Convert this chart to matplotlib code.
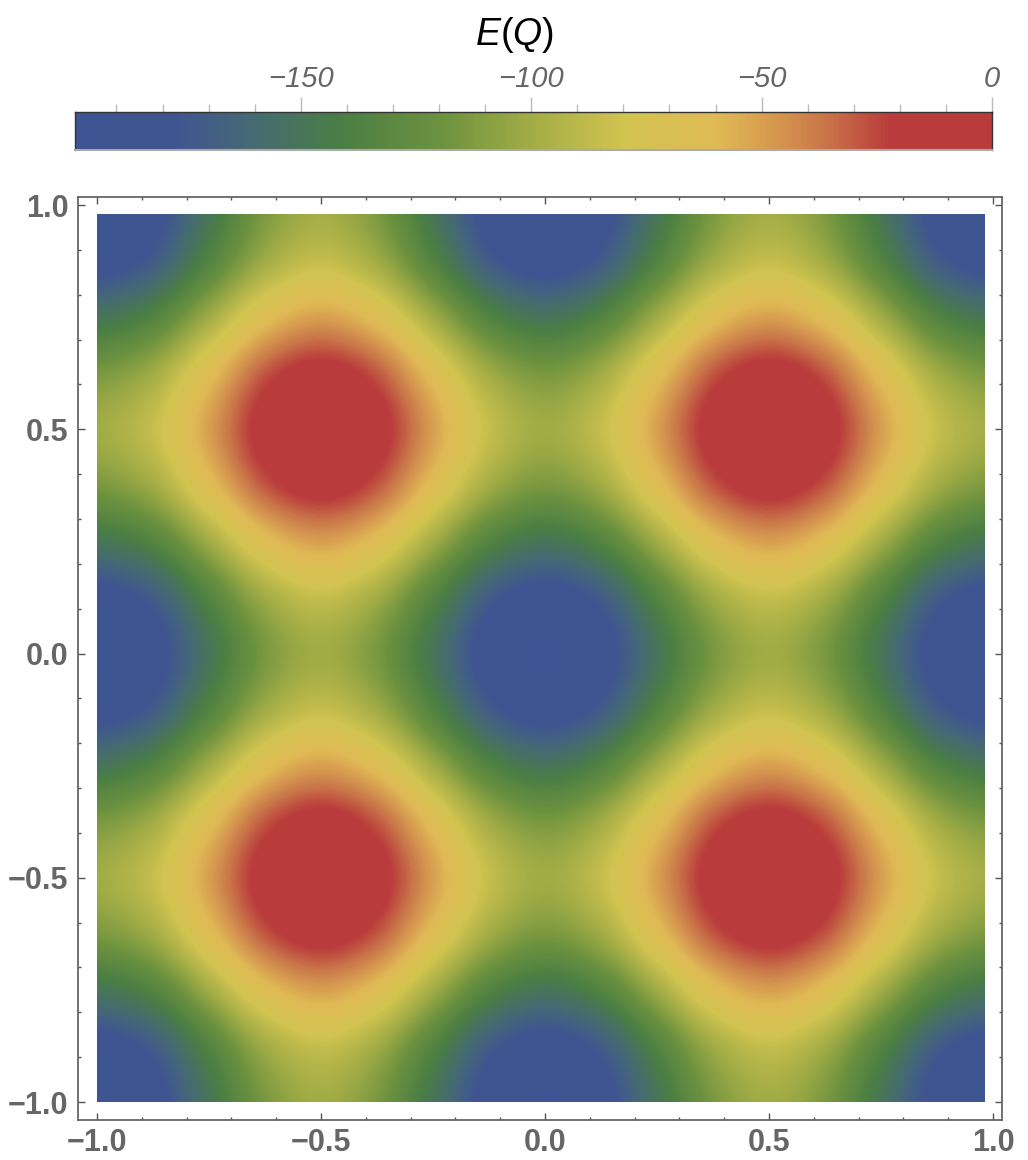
import matplotlib
matplotlib.use("Agg")
import matplotlib.pyplot as plt
import numpy as np
from matplotlib.colors import LinearSegmentedColormap
from matplotlib.patches import Rectangle

# grid of E(Q) values, step 0.125 from -1 to 1
# rows go with y (bottom to top), columns with x (left to right)
grid_x = [-1.0, -0.875, -0.75, -0.625, -0.5, -0.375, -0.25, -0.125, 0.0,
          0.125, 0.25, 0.375, 0.5, 0.625, 0.75, 0.875, 1.0]
grid_y = grid_x
energy = [
    [-200, -185, -150, -115, -100, -115, -150, -185, -200, -185, -150, -115, -100, -115, -150, -185, -200],
    [-185, -171, -135, -100, -85, -100, -135, -171, -185, -171, -135, -100, -85, -100, -135, -171, -185],
    [-150, -135, -100, -65, -50, -65, -100, -135, -150, -135, -100, -65, -50, -65, -100, -135, -150],
    [-115, -100, -65, -29, -15, -29, -65, -100, -115, -100, -65, -29, -15, -29, -65, -100, -115],
    [-100, -85, -50, -15, 0, -15, -50, -85, -100, -85, -50, -15, 0, -15, -50, -85, -100],
    [-115, -100, -65, -29, -15, -29, -65, -100, -115, -100, -65, -29, -15, -29, -65, -100, -115],
    [-150, -135, -100, -65, -50, -65, -100, -135, -150, -135, -100, -65, -50, -65, -100, -135, -150],
    [-185, -171, -135, -100, -85, -100, -135, -171, -185, -171, -135, -100, -85, -100, -135, -171, -185],
    [-200, -185, -150, -115, -100, -115, -150, -185, -200, -185, -150, -115, -100, -115, -150, -185, -200],
    [-185, -171, -135, -100, -85, -100, -135, -171, -185, -171, -135, -100, -85, -100, -135, -171, -185],
    [-150, -135, -100, -65, -50, -65, -100, -135, -150, -135, -100, -65, -50, -65, -100, -135, -150],
    [-115, -100, -65, -29, -15, -29, -65, -100, -115, -100, -65, -29, -15, -29, -65, -100, -115],
    [-100, -85, -50, -15, 0, -15, -50, -85, -100, -85, -50, -15, 0, -15, -50, -85, -100],
    [-115, -100, -65, -29, -15, -29, -65, -100, -115, -100, -65, -29, -15, -29, -65, -100, -115],
    [-150, -135, -100, -65, -50, -65, -100, -135, -150, -135, -100, -65, -50, -65, -100, -135, -150],
    [-185, -171, -135, -100, -85, -100, -135, -171, -185, -171, -135, -100, -85, -100, -135, -171, -185],
    [-200, -185, -150, -115, -100, -115, -150, -185, -200, -185, -150, -115, -100, -115, -150, -185, -200],
]
data_max = 0.98   # sampled data stops just short of 1

axis_ticks = [-1.0, -0.5, 0.0, 0.5, 1.0]
axis_labels = ["\u22121.0", "\u22120.5", "0.0", "0.5", "1.0"]
cbar_ticks = [-150, -100, -50, 0]
cbar_labels = ["\u2212150", "\u2212100", "\u221250", "0"]
e_min, e_max = -199, 0

# DarkRainbow-like colours sampled from the legend
cpos = [0.0, 0.11, 0.19, 0.29, 0.40, 0.50, 0.60, 0.70, 0.77, 0.82, 0.89, 1.0]
ccol = ["#3d5592", "#3f5591", "#456a74", "#4a7e44", "#6d923f", "#a3ad46",
        "#d2c450", "#e0ba55", "#d5944f", "#c97549", "#ba3b3c", "#ba3b3c"]
cmap = LinearSegmentedColormap.from_list("darkrainbow", list(zip(cpos, ccol)))

plt.rcParams['font.family'] = ['Liberation Sans', 'DejaVu Sans']
plt.rcParams['mathtext.fontset'] = 'custom'
plt.rcParams['mathtext.rm'] = 'Liberation Sans'
plt.rcParams['mathtext.it'] = 'Liberation Sans:italic'

W, H = 1028, 1160
fig = plt.figure(figsize=(W / 100, H / 100), dpi=100)
ax = fig.add_axes([78 / W, 40 / H, 924 / W, 923 / H])

h = grid_x[1] - grid_x[0]
im = ax.imshow(np.array(energy), origin='lower', cmap=cmap, vmin=e_min, vmax=e_max,
               extent=(grid_x[0] - h / 2, grid_x[-1] + h / 2, grid_y[0] - h / 2, grid_y[-1] + h / 2),
               interpolation='catrom', interpolation_stage='data', aspect='auto')
clip = Rectangle((grid_x[0], grid_y[0]), data_max - grid_x[0], data_max - grid_y[0],
                 transform=ax.transData)
im.set_clip_path(clip)

ax.set_xlim(-1.0424, 1.0201)
ax.set_ylim(-1.0401, 1.018)
ax.set_xticks(axis_ticks, axis_labels, fontweight='bold')
ax.set_yticks(axis_ticks, axis_labels, fontweight='bold')
ax.set_xticks(np.arange(-1.0, 1.01, 0.1), minor=True)
ax.set_yticks(np.arange(-1.0, 1.01, 0.1), minor=True)
ax.tick_params(which='both', direction='in', top=True, right=True, color='#555555',
               width=1.0, labelsize=22, labelcolor='#666666')
ax.tick_params(which='major', length=5)
ax.tick_params(which='minor', length=2.5)
ax.tick_params(axis='x', pad=6)
ax.tick_params(axis='y', pad=7)
for s in ax.spines.values():
    s.set_color('#666666')
    s.set_linewidth(1.3)

# colour legend on top
cax = fig.add_axes([75 / W, 1010 / H, 917 / W, 38 / H])
cb = fig.colorbar(im, cax=cax, orientation='horizontal')
cb.outline.set_visible(False)
cax.xaxis.set_ticks_position('top')
cax.set_xticks(cbar_ticks, cbar_labels, fontstyle='italic')
cax.set_xticks(np.arange(-190, 1, 10), minor=True)
cax.tick_params(which='both', direction='out', color='#bbbbbb', width=1.0,
                labelsize=21, labelcolor='#666666', pad=3)
cax.tick_params(which='major', length=11)
cax.tick_params(which='minor', length=6)
for side in ['top', 'left', 'right']:
    cax.spines[side].set_visible(True)
    cax.spines[side].set_color('#333333')
    cax.spines[side].set_linewidth(1.0)
cax.spines['bottom'].set_visible(True)
cax.spines['bottom'].set_color('#aaaaaa')
cax.spines['bottom'].set_linewidth(1.5)

fig.text(514 / W, 1 - 35 / H, r"$E(Q)$", ha='center', va='center', fontsize=27, color='black')

fig.savefig('out.png', dpi=100)
